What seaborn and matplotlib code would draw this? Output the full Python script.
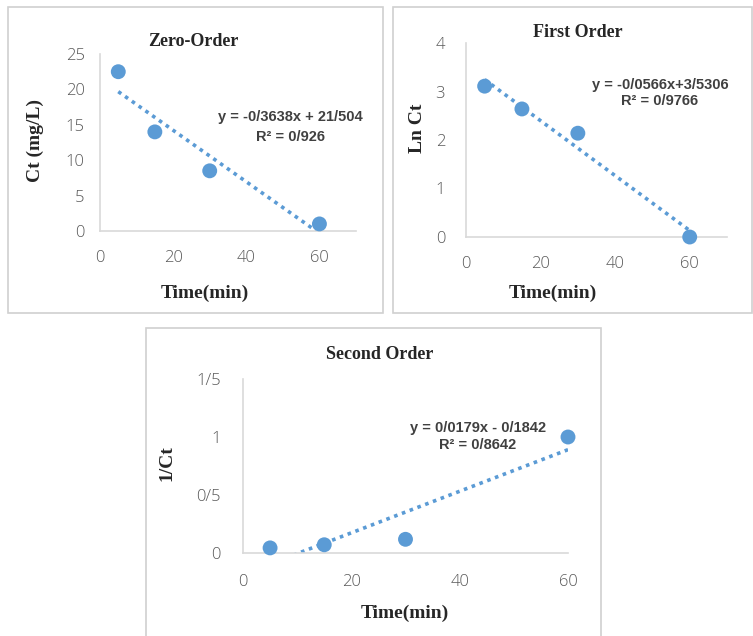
import numpy as np
import pandas as pd
import matplotlib
matplotlib.use("Agg")
import matplotlib.pyplot as plt
from matplotlib.patches import Rectangle
from matplotlib.ticker import FuncFormatter
import seaborn as sns

# ---- data ----
time_min = [5, 15, 30, 60]
ct_zero = [22.5, 14.0, 8.5, 1.0]
ln_ct = [3.11, 2.64, 2.14, 0.0]
inv_ct = [0.044, 0.071, 0.118, 1.0]

titles = ["Zero-Order", "First Order", "Second Order"]
ylabels = ["Ct (mg/L)", "Ln Ct", "1/Ct"]
xlabel = "Time(min)"
eqs = ["y = -0/3638x + 21/504", "y = -0/0566x+3/5306", "y = 0/0179x - 0/1842"]
r2s = ["R\u00b2 = 0/926", "R\u00b2 = 0/9766", "R\u00b2 = 0/8642"]
yticks = [[0, 5, 10, 15, 20, 25], [0, 1, 2, 3, 4], [0, 0.5, 1, 1.5]]
xticks = [0, 20, 40, 60]

sns.set_style("white")
W, H = 753, 636
fig = plt.figure(figsize=(W / 100, H / 100), dpi=100)

BLUE = "#5B9BD5"
GRAY_TXT = "#595959"
SPINE = "#d9d9d9"

def fx(px):
    return px / W

def fy(py):
    return 1 - py / H

# panel borders (pixels: x0, y0, x1, y1)
borders = [(8, 7, 383, 313), (393, 7, 752, 313), (146, 328, 601, 640)]
for (x0, y0, x1, y1) in borders:
    fig.add_artist(Rectangle((fx(x0), fy(y1)), fx(x1 - x0), (y1 - y0) / H,
                             transform=fig.transFigure, fill=False,
                             edgecolor="#d0d0d0", lw=1.2))

# axes boxes (pixels: left, right, top, bottom) and limits
axes_px = [(100, 356, 54, 231), (466, 727, 43, 237), (243, 568, 379, 553)]
xlims = [(0, 70), (0, 70), (0, 60)]
ylims = [(0, 25), (0, 4), (0, 1.5)]
title_pos = [(0.363, 1.068), (0.429, 1.052), (0.4215, 1.138)]
ylabel_px = [(35, 140), (417, 128), (167, 463)]
xlabel_px = [(205, 293), (553, 293), (405, 613)]
eq_px = [(290, 117, 137), (660, 85, 101), (478, 428, 445)]
ytick_pad = [11, 15, 16]
xtick_pad = [14, 14, 15]

series = [ct_zero, ln_ct, inv_ct]

fmt = FuncFormatter(lambda v, p: ("%g" % v).replace(".", "/"))

for i in range(3):
    l, r, t, b = axes_px[i]
    ax = fig.add_axes([fx(l), fy(b), fx(r - l), (b - t) / H])
    df = pd.DataFrame({"t": time_min, "y": series[i]})
    sns.regplot(data=df, x="t", y="y", ax=ax, ci=None, scatter=False,
                truncate=True, color=BLUE,
                line_kws=dict(ls=(0, (1, 1.3)), lw=2.6))
    sns.scatterplot(data=df, x="t", y="y", ax=ax, color=BLUE, s=115,
                    edgecolor="none", clip_on=False, zorder=5)
    ax.set_xlim(*xlims[i])
    ax.set_ylim(*ylims[i])
    ax.set_xticks(xticks)
    ax.set_yticks(yticks[i])
    ax.yaxis.set_major_formatter(fmt)
    ax.tick_params(axis="both", length=0, labelsize=12, labelcolor=GRAY_TXT)
    ax.tick_params(axis="y", pad=ytick_pad[i])
    ax.tick_params(axis="x", pad=xtick_pad[i])
    for lab in ax.get_xticklabels() + ax.get_yticklabels():
        lab.set_family("Open Sans")
        lab.set_fontweight("light")
    for s in ["top", "right"]:
        ax.spines[s].set_visible(False)
    for s in ["left", "bottom"]:
        ax.spines[s].set_color(SPINE)
        ax.spines[s].set_linewidth(1.2)
    ax.patch.set_alpha(0)

    ax.set_title(titles[i], x=title_pos[i][0], y=title_pos[i][1], va="center",
                 pad=0, family="Liberation Serif", fontweight="bold",
                 fontsize=13)
    ax.set_xlabel(xlabel, family="Liberation Serif", fontweight="bold",
                  fontsize=14, va="center")
    xl, yl = xlabel_px[i]
    ax.xaxis.set_label_coords((xl - l) / (r - l), (b - yl) / (b - t))
    ax.set_ylabel(ylabels[i], family="Liberation Serif", fontweight="bold",
                  fontsize=14, va="center")
    yx, yy = ylabel_px[i]
    ax.yaxis.set_label_coords((yx - l) / (r - l), (b - yy) / (b - t))

    ex, ey1, ey2 = eq_px[i]
    fig.text(fx(ex), fy(ey1), eqs[i], ha="center", va="center",
             family="Liberation Sans", fontweight="bold", fontsize=10.5,
             color="#404040")
    fig.text(fx(ex), fy(ey2), r2s[i], ha="center", va="center",
             family="Liberation Sans", fontweight="bold", fontsize=10.5,
             color="#404040")

fig.savefig("out.png", dpi=100)
